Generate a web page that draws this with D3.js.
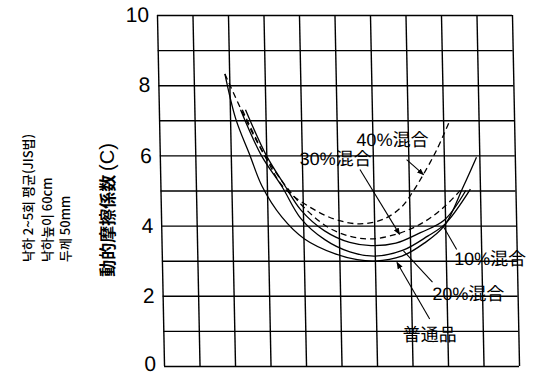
<!DOCTYPE html>
<html>
<head>
<meta charset="utf-8">
<script src="https://cdn.jsdelivr.net/npm/d3@7"></script>
<style>
  body { margin: 0; background: #fff; }
  svg { display: block; }
</style>
</head>
<body>
<div id="chart"></div>
<script>
// values (x has no labels, 0..10 grid units)
const gridTicks = d3.range(0, 11);
const yTickLabels = [0, 2, 4, 6, 8, 10];

const futsuhin = [[1.88,8.32],[2.16,7.04],[2.54,6.0],[2.86,5.13],[3.4,4.25],[4.03,3.62],[4.87,3.2],[5.5,3.03],[6.0,2.99],[6.76,3.13],[7.4,3.5],[7.97,3.99],[8.54,5.13],[8.92,5.95]];
const mix10 = [[2.44,7.3],[3.0,6.0],[3.5,5.15],[3.94,4.45],[4.6,3.85],[5.3,3.52],[5.9,3.43],[6.6,3.5],[7.3,3.8],[7.97,4.15],[8.6,5.0]];
const mix20 = [[2.3,7.3],[2.86,6.0],[3.43,5.1],[3.94,4.2],[4.6,3.6],[5.3,3.25],[6.0,3.13],[6.8,3.3],[7.5,3.7],[8.0,4.05],[8.73,5.04]];
const mix30 = [[2.35,7.3],[2.96,6.0],[3.55,5.1],[4.1,4.45],[4.7,3.95],[5.3,3.7],[5.9,3.62],[6.7,3.78],[7.4,4.1],[8.0,4.55],[8.48,5.04]];
const mix40 = [[1.88,8.32],[2.5,6.9],[3.0,5.9],[3.46,5.1],[4.13,4.57],[4.87,4.19],[5.6,4.05],[6.3,4.2],[6.8,4.55],[7.13,5.0],[7.41,5.45],[7.8,6.15],[8.17,6.95]];

// label text, anchor, leader line (from -> to), arrow head or not
const labelNames = ["40%混合", "30%混合", "10%混合", "20%混合", "普通品"];
const labelAt = [[5.55,6.28],[3.94,5.74],[8.23,2.87],[7.6,1.88],[6.74,0.71]];
const leaderFrom = [[6.95,5.88],[5.63,5.6],[8.31,3.32],[7.61,2.39],[7.51,1.34]];
const leaderTo = [[7.42,5.45],[6.71,3.75],[7.94,3.99],[6.81,3.28],[6.62,2.95]];
const leaderArrow = [true, true, false, false, true];

const noteLines = ["낙하 2~5회 평균(JIS법)", "낙하높이 60cm", "두께 50mm"];

const width = 536, height = 377;
const plotTop = 15, plotBottom = 366, plotLeft = 160.5, plotRight = 515.5;
const midY = (plotTop + plotBottom) / 2;

const svg = d3.select("#chart").append("svg")
  .attr("width", width)
  .attr("height", height);

svg.append("defs").append("marker")
  .attr("id", "arrow")
  .attr("viewBox", "0 0 10 10")
  .attr("refX", 9).attr("refY", 5)
  .attr("markerWidth", 7).attr("markerHeight", 7)
  .attr("markerUnits", "userSpaceOnUse")
  .attr("orient", "auto")
  .append("path")
  .attr("d", "M0,1 L10,5 L0,9 Z")
  .attr("fill", "#000");

// the scanned grid leans slightly, so skew the whole plot
const g = svg.append("g")
  .attr("transform", "translate(0," + midY + ") skewX(1.15) translate(0," + (-midY) + ")");

const x = d3.scaleLinear().domain([0, 10]).range([plotLeft, plotRight]);
const y = d3.scaleLinear().domain([0, 10]).range([plotBottom, plotTop]);

// grid
g.append("g")
  .attr("class", "xgrid")
  .attr("transform", "translate(0," + plotBottom + ")")
  .call(d3.axisBottom(x).tickValues(gridTicks).tickSize(-(plotBottom - plotTop)).tickFormat(""))
  .call(a => a.select(".domain").remove())
  .call(a => a.selectAll("line").attr("stroke", "#000").attr("stroke-width", 1.4));

g.append("g")
  .attr("class", "ygrid")
  .attr("transform", "translate(" + plotLeft + ",0)")
  .call(d3.axisLeft(y).tickValues(gridTicks).tickSize(-(plotRight - plotLeft)).tickFormat(""))
  .call(a => a.select(".domain").remove())
  .call(a => a.selectAll("line").attr("stroke", "#000").attr("stroke-width", 1.4));

// y tick labels
g.append("g")
  .attr("class", "yaxis")
  .attr("transform", "translate(" + plotLeft + ",0)")
  .call(d3.axisLeft(y).tickValues(yTickLabels).tickSize(0).tickPadding(8))
  .call(a => a.select(".domain").remove())
  .call(a => a.selectAll("text")
    .attr("fill", "#000")
    .attr("dy", d => d === 0 ? "0.2em" : "0.32em")
    .style("font-family", "'Liberation Sans', Arial, sans-serif")
    .style("font-size", "21px"));

// curves
const line = d3.line()
  .x(d => x(d[0]))
  .y(d => y(d[1]))
  .curve(d3.curveCatmullRom.alpha(0.5));

const curves = [
  { data: futsuhin, dash: null },
  { data: mix10, dash: null },
  { data: mix20, dash: null },
  { data: mix30, dash: "6,4" },
  { data: mix40, dash: "6,4" }
];

g.selectAll(".curve")
  .data(curves)
  .enter()
  .append("path")
  .attr("class", "curve")
  .attr("fill", "none")
  .attr("stroke", "#000")
  .attr("stroke-width", 1.3)
  .attr("stroke-dasharray", d => d.dash)
  .attr("d", d => line(d.data));

// leader lines
g.selectAll(".leader")
  .data(labelNames)
  .enter()
  .append("line")
  .attr("class", "leader")
  .attr("x1", (d, i) => x(leaderFrom[i][0]))
  .attr("y1", (d, i) => y(leaderFrom[i][1]))
  .attr("x2", (d, i) => x(leaderTo[i][0]))
  .attr("y2", (d, i) => y(leaderTo[i][1]))
  .attr("stroke", "#000")
  .attr("stroke-width", 1.1)
  .attr("marker-end", (d, i) => leaderArrow[i] ? "url(#arrow)" : null);

// curve labels
g.selectAll(".clabel")
  .data(labelNames)
  .enter()
  .append("text")
  .attr("class", "clabel")
  .attr("x", (d, i) => x(labelAt[i][0]))
  .attr("y", (d, i) => y(labelAt[i][1]))
  .attr("fill", "#000")
  .style("font-family", "'Liberation Sans', 'Noto Sans CJK JP', sans-serif")
  .style("font-size", "18px")
  .text(d => d);

// y title
const title = svg.append("text")
  .attr("transform", "translate(114,210) rotate(-90)")
  .attr("text-anchor", "middle")
  .attr("fill", "#000")
  .style("font-family", "'Noto Sans CJK JP', sans-serif");
title.append("tspan")
  .style("font-size", "17px")
  .style("font-weight", "bold")
  .text("動的摩擦係数 ");
title.append("tspan")
  .style("font-family", "'Liberation Sans', sans-serif")
  .style("font-size", "20px")
  .text("(C)");

// conditions note
svg.selectAll(".note")
  .data(noteLines)
  .enter()
  .append("text")
  .attr("class", "note")
  .attr("transform", (d, i) => "translate(" + [33, 52, 70][i] + ",262) rotate(-90)")
  .attr("fill", "#000")
  .style("font-family", "'Noto Sans CJK KR', sans-serif")
  .style("font-size", "13px")
  .style("font-weight", "500")
  .text(d => d);
</script>
</body>
</html>
